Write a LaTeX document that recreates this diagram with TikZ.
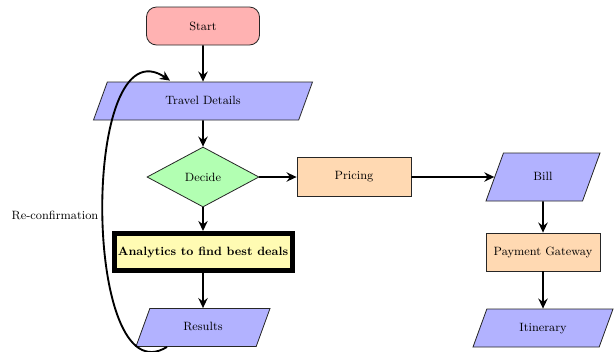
\documentclass[tikz,border=0pt]{standalone}
\usetikzlibrary{shapes.geometric,arrows.meta,calc}
\begin{document}
\begin{tikzpicture}[x=0.75pt,y=-0.75pt,
  every node/.style={font=\fontsize{9}{11}\selectfont, inner sep=2pt},
  box/.style={draw=black!85, line width=0.6pt, align=center},
  startstop/.style={box, rectangle, rounded corners=7.5pt, fill=red!30,
    minimum width={113*0.75pt}, minimum height={38*0.75pt}},
  io/.style={box, trapezium, trapezium left angle=70, trapezium right angle=110,
    trapezium stretches body=true, fill=blue!30,
    text height=7pt, text depth=2pt, inner ysep=9.75pt},
  decision/.style={box, diamond, aspect=1.87, inner sep=0pt, fill=green!30,
    minimum width={112*0.75pt}, minimum height={60*0.75pt}},
  process/.style={box, rectangle, fill=orange!30,
    minimum width={114*0.75pt}, minimum height={38*0.75pt}},
  analysis/.style={draw=black, line width=3.75pt, rectangle, fill=yellow!30,
    font=\fontsize{9}{11}\selectfont\bfseries,
    minimum width={178*0.75pt}, minimum height={37*0.75pt}},
  arrow/.style={line width=1.4pt, -{Stealth[length=7.5pt,width=7pt,inset=2.5pt]}}
]
\path[use as bounding box] (0,0) rectangle (614,351);

% main column
\node[startstop] (start) at (203,26) {Start};
\node[io, minimum width={219*0.75pt}] (travel) at (203,101) {Travel Details};
\node[decision] (decide) at (203,177) {Decide};
\node[analysis] (analytics) at (203,252) {Analytics to find best deals};
\node[io, minimum width={134*0.75pt}] (results) at (203,327.5) {Results};

% right branch
\node[process, minimum height={39*0.75pt}] (pricing) at (354,177) {Pricing};
\node[io, minimum width={114*0.75pt}, inner ysep=13.5pt] (bill) at (543,177) {Bill};
\node[process] (payment) at (543,252) {Payment Gateway};
\node[io, minimum width={140*0.75pt}] (itinerary) at (543,328) {Itinerary};

% connectors
\draw[arrow] (start) -- (travel);
\draw[arrow] (travel) -- (decide);
\draw[arrow] (decide) -- (analytics);
\draw[arrow] (analytics) -- (results);
\draw[arrow] (decide) -- (pricing);
\draw[arrow] (pricing) -- (bill);
\draw[arrow] (bill) -- (payment);
\draw[arrow] (payment) -- (itinerary);

% feedback loop from the results back to the travel details
\coordinate (loopout) at ($(results.south)+(-36,0)$);
\coordinate (loopin) at ($(travel.north)+(-33,-1)$);
\draw[arrow] (loopout) .. controls (82,400) and (80,20) .. (loopin);
\node (reconf) at (55,215) {Re-confirmation};
\end{tikzpicture}
\end{document}
